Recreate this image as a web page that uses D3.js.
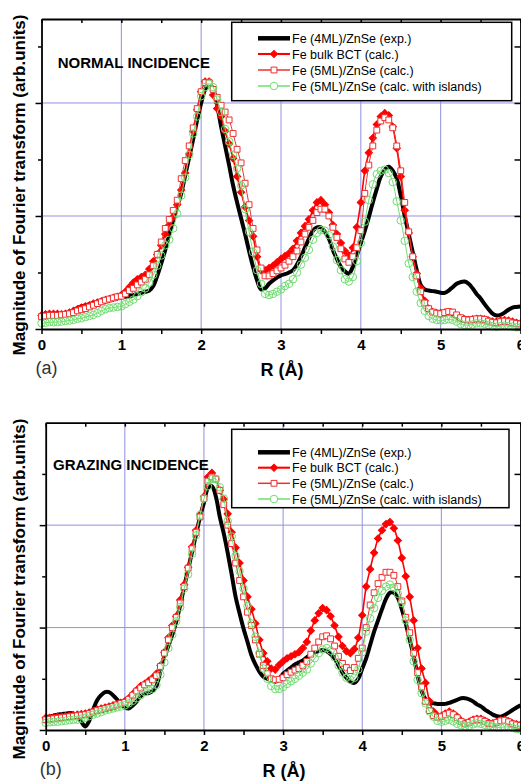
<!DOCTYPE html>
<html>
<head>
<meta charset="utf-8">
<script src="https://cdn.jsdelivr.net/npm/d3@7.9.0/dist/d3.min.js"></script>
<style>
  body { margin: 0; background: #fff; }
  svg { display: block; font-family: "Liberation Sans", Arial, sans-serif; }
</style>
</head>
<body>
<svg id="chart" width="521" height="783"></svg>
<script>
// R grid (Å), one sample every 0.05 Å from 0 to 6
const rGrid = d3.range(121).map(i => i * 0.05);
const xLabels = [0, 1, 2, 3, 4, 5, 6];
const seriesNames = [
    'Fe (4ML)/ZnSe (exp.)',
    'Fe bulk BCT (calc.)',
    'Fe (5ML)/ZnSe (calc.)',
    'Fe (5ML)/ZnSe (calc. with islands)'
];

// (a) normal incidence
const aExp = [
    0.09,0.10,0.11,0.12,0.125,0.13,0.14,0.15,0.165,0.185,0.20,0.21,0.22,0.23,0.24,0.25,0.26,0.265,0.27,0.275,
    0.28,0.285,0.29,0.30,0.31,0.32,0.33,0.34,0.38,0.47,0.58,0.70,0.84,0.96,1.08,1.20,1.36,1.52,1.68,1.85,
    2.00,2.12,2.17,2.12,1.98,1.79,1.62,1.45,1.27,1.12,0.98,0.84,0.69,0.55,0.43,0.35,0.36,0.40,0.43,0.455,
    0.475,0.485,0.50,0.52,0.57,0.64,0.72,0.80,0.87,0.90,0.90,0.86,0.80,0.70,0.62,0.55,0.51,0.49,0.55,0.65,
    0.76,0.87,0.99,1.12,1.24,1.35,1.41,1.435,1.40,1.33,1.18,1.00,0.84,0.68,0.52,0.39,0.35,0.34,0.335,0.33,
    0.32,0.32,0.34,0.37,0.40,0.415,0.42,0.40,0.36,0.31,0.27,0.22,0.175,0.135,0.12,0.125,0.145,0.17,0.19,0.195,
    0.20
];
const aBulk = [
    0.12,0.13,0.135,0.135,0.135,0.13,0.135,0.145,0.16,0.175,0.19,0.20,0.21,0.225,0.235,0.245,0.255,0.265,0.275,0.285,
    0.30,0.33,0.37,0.41,0.44,0.46,0.48,0.53,0.60,0.66,0.74,0.84,0.92,0.99,1.10,1.23,1.38,1.55,1.75,1.94,
    2.10,2.19,2.19,2.07,1.95,1.88,1.75,1.64,1.51,1.35,1.21,1.08,0.96,0.82,0.64,0.52,0.52,0.54,0.56,0.59,
    0.62,0.645,0.67,0.71,0.78,0.85,0.91,0.97,1.05,1.12,1.14,1.10,1.03,0.92,0.84,0.76,0.69,0.65,0.72,0.90,
    1.12,1.40,1.56,1.69,1.81,1.88,1.91,1.89,1.79,1.60,1.35,1.05,0.85,0.64,0.49,0.36,0.25,0.18,0.15,0.14,
    0.14,0.145,0.15,0.14,0.115,0.095,0.085,0.08,0.085,0.09,0.09,0.085,0.075,0.065,0.065,0.075,0.08,0.075,0.065,0.055,
    0.05
];
const aFive = [
    0.11,0.115,0.12,0.12,0.12,0.125,0.13,0.135,0.145,0.16,0.17,0.18,0.195,0.21,0.225,0.24,0.255,0.265,0.275,0.285,
    0.29,0.31,0.34,0.36,0.39,0.415,0.44,0.48,0.56,0.66,0.77,0.89,0.97,1.05,1.14,1.33,1.49,1.62,1.78,1.95,
    2.10,2.18,2.18,2.12,2.05,1.98,1.92,1.85,1.73,1.59,1.47,1.29,1.10,0.89,0.70,0.54,0.47,0.47,0.49,0.515,
    0.54,0.565,0.60,0.64,0.69,0.77,0.84,0.90,0.96,1.03,1.06,1.06,1.00,0.90,0.81,0.71,0.62,0.59,0.64,0.72,
    0.87,1.20,1.45,1.62,1.76,1.84,1.87,1.85,1.78,1.62,1.40,1.12,0.86,0.64,0.47,0.33,0.23,0.18,0.15,0.14,
    0.135,0.145,0.155,0.15,0.125,0.10,0.085,0.08,0.085,0.09,0.09,0.085,0.07,0.06,0.055,0.065,0.07,0.065,0.055,0.05,
    0.045
];
const aIsl = [
    0.05,0.055,0.06,0.06,0.06,0.065,0.07,0.075,0.08,0.09,0.095,0.105,0.115,0.125,0.14,0.16,0.175,0.185,0.19,0.195,
    0.20,0.22,0.24,0.26,0.29,0.325,0.36,0.41,0.48,0.56,0.65,0.74,0.79,0.89,1.02,1.18,1.34,1.54,1.73,1.88,
    2.06,2.14,2.17,2.14,2.03,1.92,1.77,1.66,1.54,1.42,1.27,1.06,0.86,0.68,0.52,0.40,0.31,0.30,0.31,0.33,
    0.35,0.38,0.40,0.44,0.50,0.57,0.63,0.70,0.79,0.85,0.875,0.87,0.83,0.73,0.61,0.52,0.44,0.42,0.46,0.60,
    0.76,0.95,1.14,1.28,1.37,1.40,1.41,1.38,1.30,1.13,0.96,0.78,0.58,0.46,0.33,0.23,0.16,0.115,0.09,0.08,
    0.075,0.08,0.085,0.08,0.065,0.045,0.035,0.035,0.04,0.05,0.05,0.045,0.035,0.025,0.02,0.025,0.03,0.025,0.02,0.015,
    0.015
];

// (b) grazing incidence
const bExp = [
    0.13,0.13,0.14,0.15,0.155,0.16,0.165,0.16,0.13,0.08,0.035,0.09,0.20,0.29,0.34,0.37,0.37,0.34,0.30,0.25,
    0.22,0.21,0.24,0.28,0.33,0.355,0.36,0.38,0.43,0.58,0.72,0.82,0.93,1.06,1.22,1.40,1.57,1.74,1.91,2.08,
    2.22,2.36,2.38,2.28,2.08,1.92,1.73,1.52,1.30,1.14,0.99,0.86,0.73,0.64,0.57,0.52,0.50,0.49,0.47,0.50,
    0.55,0.58,0.61,0.64,0.66,0.68,0.71,0.74,0.76,0.77,0.78,0.77,0.74,0.70,0.63,0.56,0.51,0.47,0.46,0.50,
    0.60,0.70,0.83,0.96,1.07,1.18,1.28,1.34,1.34,1.29,1.18,1.04,0.88,0.72,0.53,0.38,0.30,0.265,0.26,0.255,
    0.255,0.255,0.265,0.28,0.295,0.31,0.31,0.30,0.28,0.25,0.23,0.20,0.175,0.15,0.135,0.13,0.145,0.17,0.195,0.22,
    0.24
];
const bBulk = [
    0.12,0.12,0.125,0.13,0.13,0.135,0.14,0.145,0.15,0.155,0.16,0.17,0.185,0.20,0.21,0.22,0.23,0.24,0.25,0.265,
    0.28,0.31,0.35,0.39,0.43,0.45,0.48,0.51,0.55,0.63,0.76,0.90,1.02,1.11,1.27,1.42,1.59,1.79,1.95,2.10,
    2.28,2.47,2.51,2.45,2.34,2.25,2.11,1.93,1.78,1.63,1.46,1.30,1.18,1.04,0.88,0.75,0.67,0.60,0.59,0.635,
    0.67,0.70,0.72,0.74,0.76,0.80,0.86,0.97,1.07,1.14,1.19,1.17,1.11,1.02,0.91,0.82,0.77,0.75,0.79,0.90,
    1.12,1.40,1.57,1.73,1.87,1.95,2.01,2.03,1.97,1.85,1.68,1.50,1.30,1.07,0.80,0.60,0.46,0.28,0.18,0.14,
    0.135,0.16,0.18,0.16,0.13,0.09,0.065,0.08,0.10,0.11,0.11,0.09,0.07,0.065,0.08,0.095,0.10,0.085,0.065,0.055,
    0.05
];
const bFive = [
    0.10,0.105,0.11,0.115,0.12,0.125,0.13,0.135,0.14,0.145,0.15,0.16,0.175,0.19,0.20,0.21,0.22,0.23,0.245,0.26,
    0.27,0.30,0.34,0.38,0.41,0.44,0.46,0.49,0.53,0.62,0.75,0.88,1.00,1.10,1.24,1.40,1.58,1.77,1.93,2.08,
    2.26,2.43,2.47,2.45,2.34,2.20,2.00,1.82,1.63,1.46,1.30,1.15,1.02,0.88,0.74,0.63,0.55,0.50,0.49,0.495,
    0.51,0.54,0.565,0.585,0.60,0.63,0.67,0.74,0.80,0.86,0.91,0.92,0.89,0.82,0.72,0.65,0.61,0.58,0.61,0.70,
    0.80,1.00,1.22,1.34,1.43,1.49,1.54,1.54,1.51,1.40,1.26,1.10,0.95,0.75,0.56,0.42,0.28,0.19,0.14,0.125,
    0.13,0.15,0.165,0.15,0.12,0.085,0.06,0.075,0.095,0.105,0.10,0.085,0.065,0.06,0.075,0.09,0.095,0.08,0.06,0.05,
    0.045
];
const bIsl = [
    0.07,0.075,0.08,0.08,0.085,0.09,0.095,0.10,0.10,0.11,0.12,0.135,0.15,0.16,0.175,0.19,0.20,0.21,0.22,0.23,
    0.24,0.26,0.285,0.31,0.34,0.37,0.39,0.40,0.44,0.54,0.66,0.80,0.93,1.06,1.20,1.38,1.52,1.72,1.90,2.10,
    2.26,2.38,2.45,2.45,2.37,2.26,2.04,1.89,1.70,1.55,1.38,1.21,1.04,0.91,0.75,0.60,0.50,0.43,0.40,0.40,
    0.42,0.45,0.475,0.50,0.53,0.56,0.59,0.65,0.70,0.75,0.785,0.80,0.775,0.71,0.63,0.56,0.51,0.49,0.51,0.59,
    0.76,0.96,1.09,1.19,1.29,1.36,1.40,1.42,1.39,1.33,1.24,1.07,0.88,0.67,0.49,0.36,0.26,0.18,0.13,0.09,
    0.08,0.09,0.10,0.085,0.06,0.045,0.035,0.04,0.055,0.065,0.06,0.05,0.045,0.035,0.025,0.025,0.03,0.03,0.02,0.01,
    0.005
];

// look of each series, same order as seriesNames
const styles = [
    { color: '#000000', width: 4, symbol: null },
    { color: '#ff0000', width: 1.6, symbol: 'diamond', fill: '#ff0000' },
    { color: '#ee3030', width: 1, symbol: 'square', fill: '#ffffff' },
    { color: '#70dd70', width: 1, symbol: 'circle', fill: 'none' }
];

const panels = [
    {
        title: 'NORMAL INCIDENCE', tag: '(a)', series: [aExp, aBulk, aFive, aIsl],
        left: 41.5, right: 520.5, top: 19, bottom: 329, yMax: 2.743,
        titleX: 57.7, titleY: 67.5,
        legend: { x: 231.7, y: 22.3, w: 280, h: 78.4, rows: [38.3, 54, 70, 86] },
        labelY: 185
    },
    {
        title: 'GRAZING INCIDENCE', tag: '(b)', series: [bExp, bBulk, bFive, bIsl],
        left: 45.7, right: 520.5, top: 422.7, bottom: 730, yMax: 3,
        titleX: 53, titleY: 469.5,
        legend: { x: 231.7, y: 429.3, w: 277.3, h: 78.4, rows: [452.3, 467.7, 483.3, 499] },
        labelY: 589
    }
];

const svg = d3.select('#chart');

function markerPath(kind) {
    if (kind === 'diamond') return d3.symbol(d3.symbolSquare, 26)();
    if (kind === 'square') return d3.symbol(d3.symbolSquare, 34)();
    return d3.symbol(d3.symbolCircle, 44)();
}

function drawPanel(p) {
    const g = svg.append('g');
    const x = d3.scaleLinear().domain([0, 6]).range([p.left, p.right]);
    const y = d3.scaleLinear().domain([0, p.yMax]).range([p.bottom, p.top]);

    // grid
    g.append('g').selectAll('line').data([1, 2, 3, 4, 5]).join('line')
        .attr('x1', d => x(d)).attr('x2', d => x(d))
        .attr('y1', p.top).attr('y2', p.bottom)
        .attr('stroke', '#9090e0').attr('stroke-width', 1);
    g.append('g').selectAll('line').data([1, 2]).join('line')
        .attr('x1', p.left).attr('x2', p.right)
        .attr('y1', d => y(d)).attr('y2', d => y(d))
        .attr('stroke', '#9090e0').attr('stroke-width', 1);

    // curves
    p.series.forEach((vals, si) => {
        const st = styles[si];
        const line = d3.line()
            .x((d, i) => x(rGrid[i]))
            .y(d => y(d))
            .curve(d3.curveCatmullRom.alpha(0.5));
        g.append('path')
            .attr('d', line(vals))
            .attr('fill', 'none')
            .attr('stroke', st.color)
            .attr('stroke-width', st.width)
            .attr('stroke-linejoin', 'round');
        if (st.symbol) {
            const sym = markerPath(st.symbol);
            const rot = st.symbol === 'diamond' ? ' rotate(45)' : '';
            g.append('g').selectAll('path').data(vals).join('path')
                .attr('d', sym)
                .attr('transform', (d, i) => `translate(${x(rGrid[i])},${y(d)})${rot}`)
                .attr('fill', st.fill)
                .attr('stroke', st.color)
                .attr('stroke-width', 1);
        }
    });

    // axes
    const halfSteps = d3.range(0, 6.001, 0.5);
    const yMajor = [0, 1, 2].filter(v => v <= p.yMax);
    const yMinor = [0.5, 1.5, 2.5].filter(v => v < p.yMax);

    const styleAxis = sel => {
        sel.attr('font-family', null).attr('font-size', null);
        sel.select('.domain').attr('stroke-width', 1.8);
        sel.selectAll('.tick line').attr('stroke-width', 1.5);
    };

    g.append('g')
        .attr('transform', `translate(0,${p.bottom})`)
        .call(d3.axisBottom(x).tickValues(halfSteps).tickSizeInner(5).tickSizeOuter(0).tickPadding(5)
            .tickFormat(d => xLabels.includes(d) ? d : ''))
        .call(styleAxis)
        .call(a => a.selectAll('text')
            .attr('font-size', 15).attr('font-weight', 'bold').attr('fill', '#000'));

    g.append('g')
        .attr('transform', `translate(0,${p.top})`)
        .call(d3.axisTop(x).tickValues(halfSteps).tickSizeInner(-4).tickSizeOuter(0).tickFormat(''))
        .call(styleAxis);

    g.append('g')
        .attr('transform', `translate(${p.left},0)`)
        .call(d3.axisLeft(y).tickValues(yMajor).tickSizeInner(6).tickSizeOuter(0).tickFormat(''))
        .call(styleAxis);
    g.append('g')
        .attr('transform', `translate(${p.left},0)`)
        .call(d3.axisLeft(y).tickValues(yMinor).tickSizeInner(3.5).tickSizeOuter(0).tickFormat(''))
        .call(styleAxis)
        .call(a => a.select('.domain').remove());

    g.append('g')
        .attr('transform', `translate(${p.right},0)`)
        .call(d3.axisRight(y).tickValues(yMajor.concat(yMinor)).tickSizeInner(-6).tickSizeOuter(0).tickFormat(''))
        .call(styleAxis);

    // panel title
    g.append('text')
        .attr('x', p.titleX).attr('y', p.titleY)
        .attr('font-size', 15).attr('font-weight', 'bold')
        .text(p.title);

    // legend
    const lg = p.legend;
    g.append('rect')
        .attr('x', lg.x).attr('y', lg.y).attr('width', lg.w).attr('height', lg.h)
        .attr('fill', '#fff').attr('stroke', '#000').attr('stroke-width', 1.5);
    seriesNames.forEach((name, si) => {
        const st = styles[si];
        const ry = lg.rows[si];
        g.append('line')
            .attr('x1', 258).attr('x2', 290).attr('y1', ry).attr('y2', ry)
            .attr('stroke', st.color).attr('stroke-width', si === 0 ? 4.5 : st.width + 0.5);
        if (st.symbol) {
            g.append('path')
                .attr('d', markerPath(st.symbol))
                .attr('transform', `translate(274,${ry})` + (st.symbol === 'diamond' ? ' rotate(45)' : ''))
                .attr('fill', st.fill === 'none' ? '#fff' : st.fill)
                .attr('stroke', st.color).attr('stroke-width', 1);
        }
        g.append('text')
            .attr('x', 292).attr('y', ry + 4.5)
            .attr('font-size', 12.5)
            .text(name);
    });

    // axis titles
    g.append('text')
        .attr('x', (p.left + p.right) / 2 + 1).attr('y', p.bottom + 47)
        .attr('text-anchor', 'middle')
        .attr('font-size', 18).attr('font-weight', 'bold')
        .text('R (Å)');
    g.append('text')
        .attr('x', p.left - 6).attr('y', p.bottom + 45)
        .attr('font-size', 18).attr('fill', '#333')
        .text(p.tag);
    g.append('text')
        .attr('transform', `translate(25,${p.labelY}) rotate(-90)`)
        .attr('text-anchor', 'middle')
        .attr('font-size', 17).attr('font-weight', 'bold')
        .text('Magnitude of Fourier transform (arb.units)');
}

panels.forEach(drawPanel);
</script>
</body>
</html>
